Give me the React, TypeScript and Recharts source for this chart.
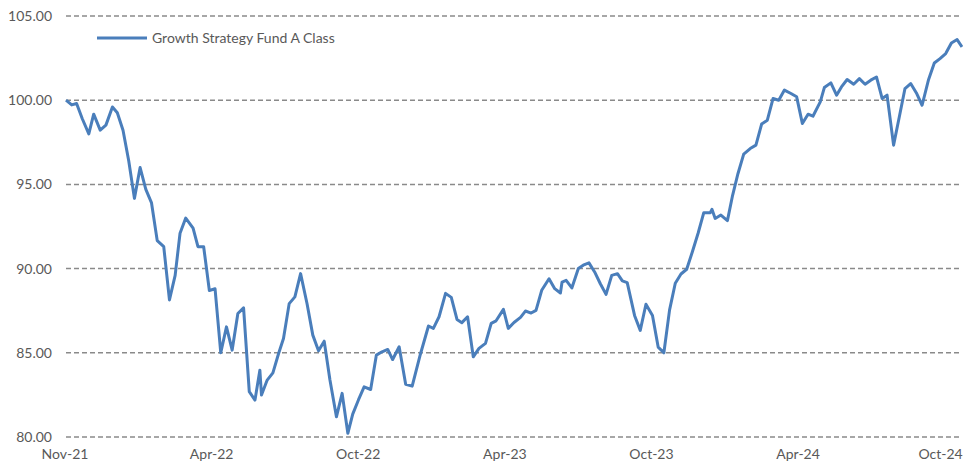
import React from 'react';
import { LineChart, Line, XAxis, YAxis, CartesianGrid, Legend } from 'recharts';

const days = [
  0, 7, 13, 20, 28, 34, 42, 49, 57, 63, 70, 77, 84, 91, 98, 105, 112, 120, 127, 134,
  140, 147, 156, 162, 169, 176, 183, 190, 197, 204, 211, 218, 225, 232, 238, 240, 247, 254, 261, 267,
  274, 281, 288, 296, 303, 310, 317, 324, 332, 339, 346, 352, 359, 366, 374, 381, 388, 395, 401, 409,
  417, 425, 435, 445, 451, 458, 466, 473, 480, 486, 493, 500, 507, 515, 522, 528, 537, 543, 550, 558,
  564, 571, 577, 584, 593, 600, 607, 609, 614, 621, 629, 635, 642, 649, 656, 663, 670, 677, 683, 689,
  698, 705, 712, 720, 727, 734, 741, 748, 755, 762, 769, 776, 783, 791, 793, 797, 804, 812, 818, 825,
  832, 840, 847, 854, 861, 868, 875, 882, 890, 897, 904, 911, 917, 926, 931, 939, 946, 952, 959, 967,
  974, 981, 988, 995, 1002, 1008, 1016, 1023, 1030, 1037, 1044, 1051, 1059, 1066, 1073, 1080, 1087, 1094, 1100,
];

const fundValues = [
  100.0, 99.72, 99.8, 98.9, 98.0, 99.17, 98.22, 98.52, 99.6, 99.25, 98.22, 96.4, 94.17, 96.0, 94.7, 93.9, 91.66, 91.3, 88.14, 89.6,
  92.1, 93.0, 92.4, 91.3, 91.3, 88.7, 88.8, 85.0, 86.54, 85.16, 87.33, 87.67, 82.69, 82.19, 83.97, 82.49, 83.38, 83.81, 84.96, 85.85,
  87.92, 88.32, 89.7, 87.9, 86.05, 85.12, 85.69, 83.4, 81.2, 82.59, 80.22, 81.36, 82.2, 82.98, 82.82, 84.86, 85.06, 85.2, 84.6, 85.36,
  83.13, 83.02, 84.9, 86.59, 86.45, 87.14, 88.53, 88.29, 86.98, 86.79, 87.14, 84.76, 85.26, 85.56, 86.75, 86.9, 87.58, 86.45, 86.8, 87.1,
  87.48, 87.36, 87.52, 88.71, 89.4, 88.81, 88.55, 89.2, 89.3, 88.85, 90.0, 90.2, 90.34, 89.8, 89.1, 88.47, 89.6, 89.7, 89.27, 89.17,
  87.22, 86.33, 87.88, 87.22, 85.34, 85.0, 87.55, 89.13, 89.68, 89.96, 91.0, 92.1, 93.32, 93.32, 93.52, 92.98, 93.18, 92.85, 94.27, 95.65,
  96.8, 97.13, 97.33, 98.58, 98.81, 100.1, 100.0, 100.6, 100.4, 100.2, 98.62, 99.17, 99.05, 99.9, 100.75, 101.03, 100.3, 100.79, 101.23, 100.95,
  101.28, 100.95, 101.19, 101.38, 100.1, 100.3, 97.33, 99.0, 100.69, 100.99, 100.43, 99.7, 101.23, 102.21, 102.47, 102.77, 103.4, 103.6, 103.16,
];

const xTicks = [0, 180, 360, 540, 720, 900, 1080];
const xTickLabels = ['Nov-21', 'Apr-22', 'Oct-22', 'Apr-23', 'Oct-23', 'Apr-24', 'Oct-24'];
const yTicks = [80, 85, 90, 95, 100, 105];

const seriesName = 'Growth Strategy Fund A Class';

const data = days.map((d, i) => ({ day: d, value: fundValues[i] }));

const FONT = 'Lato, "Open Sans", sans-serif';
const TEXT = '#595959';
const BLUE = '#4a7ebb';

const LegendBox = () => (
  <div style={{ display: 'flex', alignItems: 'center', fontFamily: FONT, fontSize: 14, color: TEXT }}>
    <svg width={50} height={6} style={{ marginRight: 5 }}>
      <line x1={0} y1={3} x2={50} y2={3} stroke={BLUE} strokeWidth={3} />
    </svg>
    <span>{seriesName}</span>
  </div>
);

// last label sits flush with the right edge, like the original
const XTick = (props: any) => {
  const { x, y, payload } = props;
  const idx = xTicks.indexOf(payload.value);
  const isLast = idx === xTicks.length - 1;
  return (
    <text
      x={isLast ? x + 17 : x - 1}
      y={y}
      dy="0.71em"
      textAnchor={isLast ? 'end' : 'middle'}
      fill={TEXT}
      fontSize={14}
      fontFamily={FONT}
    >
      {xTickLabels[idx]}
    </text>
  );
};

export default function App() {
  return (
    <div style={{ position: 'absolute', top: 8, left: 8 }}>
      <LineChart
        width={955}
        height={455}
        data={data}
        margin={{ top: 8, right: 1, bottom: 0, left: 0 }}
        style={{ fontFamily: FONT }}
      >
        <CartesianGrid
          horizontal
          vertical={false}
          stroke="#8a8a8a"
          strokeWidth={1.5}
          strokeDasharray="5 3"
        />
        <XAxis
          dataKey="day"
          type="number"
          domain={[0, 1100]}
          ticks={xTicks}
          interval={0}
          axisLine={false}
          tickLine={false}
          tickMargin={6}
          height={26}
          tick={<XTick />}
        />
        <YAxis
          domain={[80, 105]}
          ticks={yTicks}
          interval={0}
          tickFormatter={(v: number) => v.toFixed(2)}
          axisLine={false}
          tickLine={false}
          tickMargin={8}
          width={58}
          tick={{ fontSize: 14, fill: TEXT }}
        />
        <Legend
          layout="horizontal"
          verticalAlign="middle"
          align="center"
          content={() => <LegendBox />}
          wrapperStyle={{ top: 21, left: 89, width: 'auto' }}
        />
        <Line
          type="linear"
          dataKey="value"
          name={seriesName}
          stroke={BLUE}
          strokeWidth={3}
          strokeLinejoin="round"
          dot={false}
          activeDot={false}
          isAnimationActive={false}
        />
      </LineChart>
    </div>
  );
}
